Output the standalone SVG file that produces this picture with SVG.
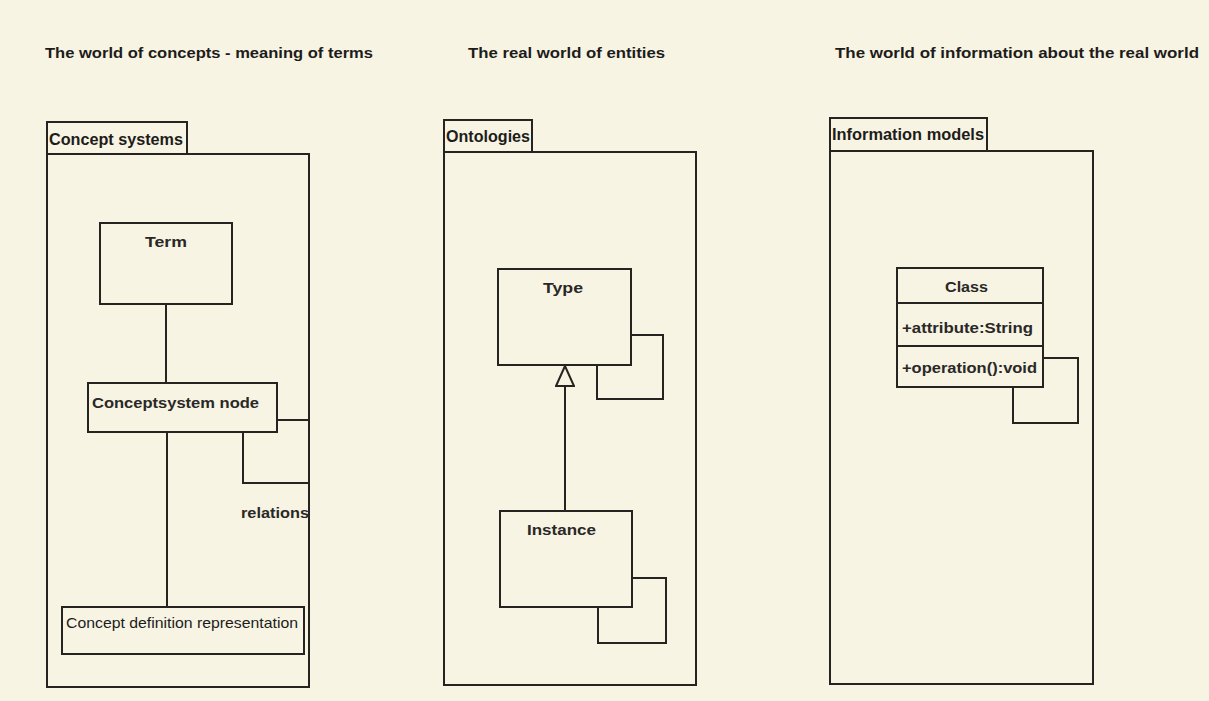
<svg xmlns="http://www.w3.org/2000/svg" width="1209" height="701" viewBox="0 0 1209 701">
  <style>
    .ln { fill: none; stroke: #262420; stroke-width: 2; }
    .box { fill: none; stroke: #262420; stroke-width: 2; }
    .title { font-family: "Liberation Sans", Arial, sans-serif; font-weight: bold; font-size: 15px; fill: #1e1c1a; }
    .tab { font-family: "Liberation Sans", Arial, sans-serif; font-weight: bold; font-size: 16px; fill: #1e1c1a; }
    .lbl { font-family: "Liberation Sans", Arial, sans-serif; font-weight: bold; font-size: 15px; fill: #2a2826; }
    .plain { font-family: "Liberation Sans", Arial, sans-serif; font-size: 15px; fill: #1e1c1a; }
  </style>
  <defs>
    <!-- hollow generalization triangle, tip at the end of the line -->
    <marker id="gen" viewBox="0 0 22 20" refX="21" refY="10" markerWidth="22" markerHeight="20" markerUnits="userSpaceOnUse" orient="auto">
      <path d="M21 10 L1 1 L1 19 Z" fill="#f6f3e2" stroke="#262420" stroke-width="2"/>
    </marker>
  </defs>
  <rect x="0" y="0" width="1209" height="701" fill="#f7f4e4"/>

  <!-- column headings -->
  <g id="headings">
    <text class="title" x="45" y="58" textLength="328" lengthAdjust="spacingAndGlyphs">The world of concepts - meaning of terms</text>
    <text class="title" x="468" y="58" textLength="197" lengthAdjust="spacingAndGlyphs">The real world of entities</text>
    <text class="title" x="835" y="58" textLength="364" lengthAdjust="spacingAndGlyphs">The world of information about the real world</text>
  </g>

  <!-- packages -->
  <g id="pkg-concept-systems">
    <rect class="box" x="47" y="122" width="140" height="32"/>
    <rect class="box" x="47" y="154" width="262" height="533"/>
    <text class="tab" x="49" y="145" textLength="134" lengthAdjust="spacingAndGlyphs">Concept systems</text>
  </g>
  <g id="pkg-ontologies">
    <rect class="box" x="444" y="120" width="88" height="32"/>
    <rect class="box" x="444" y="152" width="252" height="533"/>
    <text class="tab" x="446" y="142" textLength="84" lengthAdjust="spacingAndGlyphs">Ontologies</text>
  </g>
  <g id="pkg-information-models">
    <rect class="box" x="830" y="118" width="157" height="33"/>
    <rect class="box" x="830" y="151" width="263" height="533"/>
    <text class="tab" x="832" y="140" textLength="152" lengthAdjust="spacingAndGlyphs">Information models</text>
  </g>

  <!-- connectors -->
  <g id="connectors">
    <line class="ln" x1="166" y1="304" x2="166" y2="383"/>
    <line class="ln" x1="167" y1="432" x2="167" y2="607"/>
    <path class="ln" d="M277 420 H309 V483 H243 V432"/>
    <line class="ln" x1="565" y1="511" x2="565" y2="366" marker-end="url(#gen)"/>
    <path class="ln" d="M631 335 H663 V399 H597 V365"/>
    <path class="ln" d="M632 578 H666 V643 H598 V607"/>
    <path class="ln" d="M1043 358 H1078 V423 H1013 V387"/>
    <text class="lbl" x="241" y="518" textLength="68" lengthAdjust="spacingAndGlyphs">relations</text>
  </g>

  <!-- nodes -->
  <g id="term">
    <rect class="box" x="100" y="223" width="132" height="81" fill="#f7f4e4"/>
    <text class="lbl" x="145" y="247" textLength="42" lengthAdjust="spacingAndGlyphs">Term</text>
  </g>
  <g id="conceptsystem-node">
    <rect class="box" x="88" y="383" width="189" height="49" fill="#f7f4e4"/>
    <text class="lbl" x="92" y="408" textLength="167" lengthAdjust="spacingAndGlyphs">Conceptsystem node</text>
  </g>
  <g id="concept-definition">
    <rect class="box" x="62" y="607" width="242" height="47" fill="#f7f4e4"/>
    <text class="plain" x="66" y="628" textLength="232" lengthAdjust="spacingAndGlyphs">Concept definition representation</text>
  </g>
  <g id="type">
    <rect class="box" x="498" y="269" width="133" height="96" fill="#f7f4e4"/>
    <text class="lbl" x="543" y="293" textLength="40" lengthAdjust="spacingAndGlyphs">Type</text>
  </g>
  <g id="instance">
    <rect class="box" x="500" y="511" width="132" height="96" fill="#f7f4e4"/>
    <text class="lbl" x="527" y="535" textLength="69" lengthAdjust="spacingAndGlyphs">Instance</text>
  </g>
  <g id="class">
    <rect class="box" x="897" y="268" width="146" height="119" fill="#f7f4e4"/>
    <line class="ln" x1="897" y1="303" x2="1043" y2="303"/>
    <line class="ln" x1="897" y1="346" x2="1043" y2="346"/>
    <text class="lbl" x="945" y="292" textLength="43" lengthAdjust="spacingAndGlyphs">Class</text>
    <text class="lbl" x="902" y="333" textLength="131" lengthAdjust="spacingAndGlyphs">+attribute:String</text>
    <text class="lbl" x="902" y="373" textLength="135" lengthAdjust="spacingAndGlyphs">+operation():void</text>
  </g>
</svg>
